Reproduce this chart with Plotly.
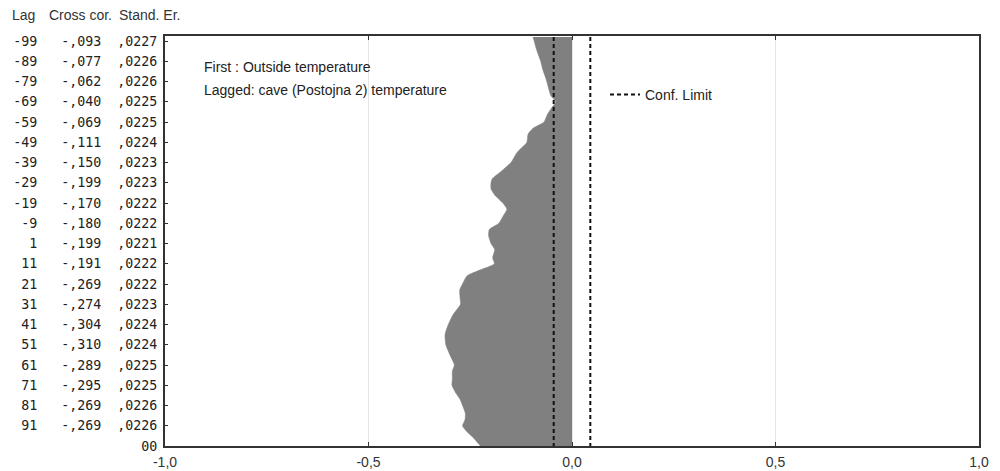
import plotly.graph_objects as go

# ---- data ----
lags = [-101, -99, -96, -93, -89, -85, -81, -79, -76, -72, -69, -66, -63, -59, -56, -53,
        -49, -44, -39, -35, -31, -29, -26, -23, -19, -16, -13, -9, -6, -3, 1, 4, 8, 11,
        14, 17, 21, 24, 28, 31, 36, 41, 46, 51, 56, 61, 64, 68, 71, 75, 78, 81, 85, 88,
        91, 94, 97, 101]
cross_corr = [-0.096, -0.093, -0.089, -0.084, -0.077, -0.072, -0.065, -0.062, -0.058, -0.052,
              -0.040, -0.050, -0.060, -0.069, -0.095, -0.108, -0.111, -0.135, -0.150, -0.172,
              -0.196, -0.199, -0.199, -0.190, -0.170, -0.160, -0.168, -0.180, -0.203, -0.205,
              -0.199, -0.190, -0.195, -0.191, -0.225, -0.258, -0.269, -0.276, -0.275, -0.274,
              -0.292, -0.304, -0.312, -0.310, -0.300, -0.289, -0.294, -0.294, -0.295, -0.285,
              -0.275, -0.269, -0.262, -0.263, -0.269, -0.258, -0.242, -0.225]

table_lags = [-99, -89, -79, -69, -59, -49, -39, -29, -19, -9, 1, 11, 21, 31, 41, 51, 61, 71, 81, 91]
table_cc = [-0.093, -0.077, -0.062, -0.040, -0.069, -0.111, -0.150, -0.199, -0.170, -0.180,
            -0.199, -0.191, -0.269, -0.274, -0.304, -0.310, -0.289, -0.295, -0.269, -0.269]
table_se = ["0227", "0226", "0226", "0225", "0225", "0224", "0223", "0223", "0222", "0222",
            "0221", "0222", "0222", "0223", "0224", "0224", "0225", "0225", "0226", "0226"]
last_tick_lag = 101
last_tick_label = "00"

conf_limit = 0.045
x_ticks = [-1.0, -0.5, 0.0, 0.5, 1.0]
x_tick_labels = ["-1,0", "-0,5", "0,0", "0,5", "1,0"]

header = ["Lag", "Cross cor.", "Stand. Er."]
note_lines = ["First : Outside temperature", "Lagged: cave (Postojna 2) temperature"]
legend_label = "Conf. Limit"

# ---- build ----
NB = "\u00a0"

def fmt_cc(v):
    s = f"{abs(v):.3f}".replace("0.", ",", 1)
    return ("-" if v < 0 else "") + s

tick_text = []
for lg, cc, se in zip(table_lags, table_cc, table_se):
    s = f"{lg:>3}" + "   " + f"{fmt_cc(cc):>5}" + "  " + "," + se
    tick_text.append(s.replace(" ", NB))
tick_vals = table_lags + [last_tick_lag]
tick_text = tick_text + [last_tick_label]

fig = go.Figure()
fig.add_trace(go.Scatter(
    x=cross_corr, y=lags, mode="lines", fill="tozerox",
    fillcolor="#808080", line=dict(color="#808080", width=0.5, shape="spline", smoothing=0.6),
    showlegend=False, hoverinfo="skip"))

ymin, ymax = min(lags), max(lags)
for i, sgn in enumerate([-1, 1]):
    fig.add_trace(go.Scatter(
        x=[sgn * conf_limit, sgn * conf_limit], y=[ymin, ymax], mode="lines",
        line=dict(color="#111111", width=2, dash="4px,3px"),
        name=legend_label, showlegend=(i == 0), hoverinfo="skip"))

L, R, T, B = 165, 21, 36, 25
W, H = 1000, 471
pw, ph = W - L - R, H - T - B

def px_x(x):
    return (x - L) / pw

def px_y(y):
    return (H - B - y) / ph

annotations = []
for txt, xp in zip(header, [10, 47, 117]):
    annotations.append(dict(text=txt, x=px_x(xp), y=px_y(15), xref="paper", yref="paper",
                            xanchor="left", yanchor="middle", showarrow=False,
                            font=dict(family="Liberation Sans, Arial", size=14, color="#333")))
for txt, yp in zip(note_lines, [67, 90]):
    annotations.append(dict(text=txt, x=px_x(202), y=px_y(yp), xref="paper", yref="paper",
                            xanchor="left", yanchor="middle", showarrow=False,
                            font=dict(family="Liberation Sans, Arial", size=14, color="#222")))

fig.update_layout(
    width=W, height=H,
    margin=dict(l=L, r=R, t=T, b=B, autoexpand=False),
    paper_bgcolor="white", plot_bgcolor="white",
    annotations=annotations,
    legend=dict(x=px_x(605), y=px_y(95), xanchor="left", yanchor="middle",
                bgcolor="rgba(0,0,0,0)", font=dict(family="Liberation Sans, Arial", size=14, color="#222"),
                itemwidth=30),
    xaxis=dict(range=[-1, 1], tickvals=x_ticks, ticktext=x_tick_labels, automargin=False,
               showgrid=True, gridcolor="#e6e6e6", gridwidth=1, zeroline=False,
               showline=True, linecolor="#333", linewidth=2, mirror="ticks",
               ticks="inside", ticklen=4, tickcolor="#333",
               tickfont=dict(family="Liberation Sans, Arial", size=14, color="#333"),
               ticklabelstandoff=2),
    yaxis=dict(range=[101, -101.5], tickvals=tick_vals, ticktext=tick_text, automargin=False,
               showgrid=False, zeroline=False,
               showline=True, linecolor="#333", linewidth=2, mirror=True,
               ticks="inside", ticklen=3, tickcolor="#333",
               tickfont=dict(family="DejaVu Sans Mono", size=13.3, color="#222"),
               ticklabelstandoff=3),
)

fig.write_html("out.html", config={"displayModeBar": False},
               post_script="document.body.style.margin='0';")
